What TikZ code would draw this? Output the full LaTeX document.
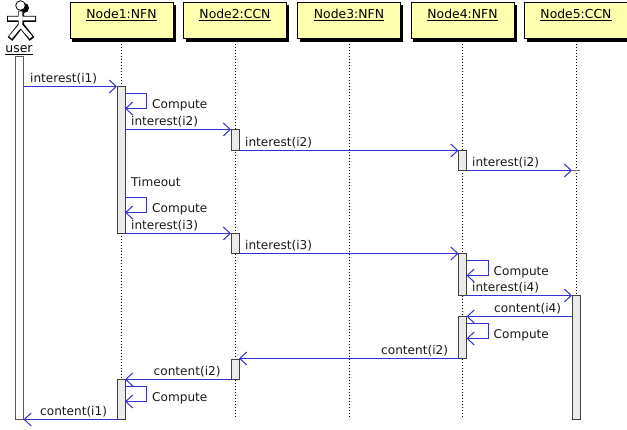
\documentclass[tikz,border=0pt]{standalone}
\usepackage{fontspec}
\setmainfont{DejaVu Sans}
\usetikzlibrary{arrows.meta}
\definecolor{hdr}{RGB}{255,255,176}
\definecolor{msg}{RGB}{50,50,215}
\definecolor{barfill}{RGB}{235,235,235}
\tikzset{
  x=1pt,y=-1pt,
  hdrbox/.style={draw=black,fill=hdr,line width=0.9pt,minimum width=103pt,minimum height=36pt,inner sep=0pt},
  hdrshadow/.style={fill=black,draw=none,minimum width=103.8pt,minimum height=36.8pt,inner sep=0pt},
  lifeline/.style={black,line width=0.9pt,dash pattern=on 1pt off 2pt},
  actbar/.style={draw=black!75,fill=barfill,line width=1pt},
  userbar/.style={draw=black!65,fill=white,line width=1pt},
  msgline/.style={draw=msg,line width=1pt,-{Straight Barb[length=7pt,width=13pt,line width=1pt]}},
  lbl/.style={font=\fontsize{12.1pt}{14pt}\selectfont,inner sep=0pt,text=black!90,anchor=base west},
  hlbl/.style={font=\fontsize{12.4pt}{14pt}\selectfont,inner sep=0pt,text=black,anchor=base},
}
\newcommand{\ulbl}[1]{\underline{#1}}
\begin{document}
\begin{tikzpicture}
\useasboundingbox (0,0) rectangle (627,430);
\foreach \n/\x in {a/121,b/235,c/349,d/462.5,e/576}{
  \coordinate (\n top) at (\x,38);
  \coordinate (\n bot) at (\x,419);
  \draw[lifeline] (\n top) -- (\n bot);
}
\foreach \n/\cx/\t in {a/121.5/Node1:NFN,b/235/Node2:CCN,c/349/Node3:NFN,d/462.5/Node4:NFN,e/576/Node5:CCN}{
  \node[hdrshadow] at (\cx+2.5,23.5) {};
  \node[hdrbox] (h\n) at (\cx,20) {};
  \node[hlbl] (t\n) at (\cx,19) {\ulbl{\t}};
}
% actor
\begin{scope}
  \fill[black] (24,8) circle (5);
  \draw[black,fill=white,line width=0.8pt] (20.5,5.5) circle (4.8);
  \draw[black,line width=6pt,line cap=butt] (21,11) -- (21,27) (7,19) -- (36,19) (21,25) -- (10,39) (21,25) -- (32,39);
  \draw[white,line width=3.6pt,line cap=butt] (20.5,11.5) -- (20.5,27) (8,18.5) -- (35,18.5) (20.5,25.5) -- (10.5,37.5) (20.5,25.5) -- (31,37.5);
\end{scope}
\node[hlbl] (tu) at (19,52.5) {\ulbl{user}};
\draw[userbar] (15.5,56.5) rectangle (23.5,419.5);
\draw[actbar] (117,86.5) rectangle (125,233.5);
\draw[actbar] (117,379.5) rectangle (125,419.5);
\draw[actbar] (231,129.5) rectangle (239,150.5);
\draw[actbar] (231,233.5) rectangle (239,253.5);
\draw[actbar] (231,359.5) rectangle (239,379.5);
\draw[actbar] (458.5,150.5) rectangle (466.5,170.5);
\draw[actbar] (458.5,253.5) rectangle (466.5,295.5);
\draw[actbar] (458.5,316.5) rectangle (466.5,358.5);
\draw[actbar] (572,295.5) rectangle (580,419.5);
\draw[msgline] (23.5,86.5) -- (117,86.5);
\node[lbl] at (30,83) {interest(i1)};
\draw[msgline] (125,94) -- (146.5,94) -- (146.5,108.5) -- (125,108.5);
\node[lbl] at (152,109) {Compute};
\draw[msgline] (125,129.5) -- (231,129.5);
\node[lbl] at (131,126) {interest(i2)};
\draw[msgline] (239,150.5) -- (458.5,150.5);
\node[lbl] at (245,147) {interest(i2)};
\draw[msgline] (466.5,170.5) -- (572,170.5);
\draw[black!60,line width=0.9pt] (572,170.5) -- (580,170.5);
\node[lbl] at (472,167) {interest(i2)};
\node[lbl] at (131,187) {Timeout};
\draw[msgline] (125,197.5) -- (146.5,197.5) -- (146.5,212.5) -- (125,212.5);
\node[lbl] at (152,213) {Compute};
\draw[msgline] (125,233.5) -- (231,233.5);
\node[lbl] at (131,230) {interest(i3)};
\draw[msgline] (239,253.5) -- (458.5,253.5);
\node[lbl] at (245,250) {interest(i3)};
\draw[msgline] (466.5,260.5) -- (488,260.5) -- (488,275.5) -- (466.5,275.5);
\node[lbl] at (493.5,276) {Compute};
\draw[msgline] (466.5,295.5) -- (572,295.5);
\node[lbl] at (472,292) {interest(i4)};
\draw[msgline] (572,316.5) -- (466.5,316.5);
\node[lbl] at (494,313) {content(i4)};
\draw[msgline] (466.5,323.5) -- (488,323.5) -- (488,338.5) -- (466.5,338.5);
\node[lbl] at (493.5,339) {Compute};
\draw[msgline] (458.5,358.5) -- (239,358.5);
\node[lbl] at (381,355) {content(i2)};
\draw[msgline] (231,379.5) -- (125,379.5);
\node[lbl] at (153.5,376) {content(i2)};
\draw[msgline] (125,386.5) -- (146.5,386.5) -- (146.5,401.5) -- (125,401.5);
\node[lbl] at (152,402) {Compute};
\draw[msgline] (117,419.5) -- (23.5,419.5);
\node[lbl] at (40,416) {content(i1)};
\end{tikzpicture}
\end{document}
